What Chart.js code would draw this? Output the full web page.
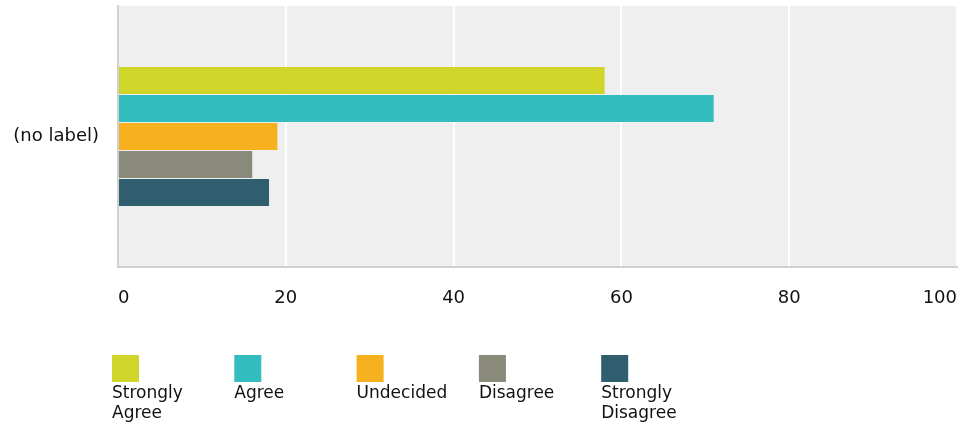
<!DOCTYPE html>
<html>
<head>
<meta charset="utf-8">
<script src="https://cdn.jsdelivr.net/npm/chart.js@4/dist/chart.umd.min.js"></script>
<style>
  html, body { margin: 0; padding: 0; background: #fff; overflow: hidden; }
  canvas { display: block; }
</style>
</head>
<body>
<canvas id="chart" width="959" height="429"></canvas>
<script>
const categories = ['(no label)'];
const seriesNames = ['Strongly Agree', 'Agree', 'Undecided', 'Disagree', 'Strongly Disagree'];
const seriesValues = [[58], [71], [19], [16], [18]];
const seriesColors = ['#d0d52a', '#33bdbf', '#f7b01e', '#8a8a7a', '#2f5f6e'];
const xTicks = [0, 20, 40, 60, 80, 100];

const FONT = '"DejaVu Sans", sans-serif';

// grey plot background
const plotBg = {
  id: 'plotBg',
  beforeDraw(chart) {
    const { ctx, chartArea: a } = chart;
    ctx.save();
    ctx.fillStyle = '#efefef';
    ctx.fillRect(a.left, a.top, a.right - a.left, a.bottom - a.top);
    ctx.restore();
  }
};

// legend: box on top, wrapped label under it
const boxLegend = {
  id: 'boxLegend',
  afterDraw(chart) {
    const ctx = chart.ctx;
    ctx.save();
    ctx.font = '17px ' + FONT;
    ctx.textBaseline = 'top';
    chart.data.datasets.forEach((ds, i) => {
      const x = 112 + i * 122.3;
      ctx.fillStyle = ds.backgroundColor;
      ctx.fillRect(x, 355, 27, 27);
      ctx.fillStyle = '#111';
      const words = ds.label.split(' ');
      let lines = [], cur = '';
      words.forEach(w => {
        const t = cur ? cur + ' ' + w : w;
        if (ctx.measureText(t).width > 112 && cur) { lines.push(cur); cur = w; } else cur = t;
      });
      lines.push(cur);
      lines.forEach((l, j) => ctx.fillText(l, x, 385 + j * 20));
    });
    ctx.restore();
  }
};

new Chart(document.getElementById('chart'), {
  type: 'bar',
  data: {
    labels: categories,
    datasets: seriesNames.map((n, i) => ({
      label: n,
      data: seriesValues[i],
      backgroundColor: seriesColors[i],
      barPercentage: 0.96,
      categoryPercentage: 0.537
    }))
  },
  options: {
    indexAxis: 'y',
    responsive: false,
    animation: false,
    layout: { padding: { left: 0, right: 2, top: 6, bottom: 108 } },
    plugins: { legend: { display: false }, tooltip: { enabled: false } },
    scales: {
      x: {
        min: 0, max: 100,
        afterBuildTicks: (s) => { s.ticks = xTicks.map(v => ({ value: v })); },
        afterFit: (s) => { s.height = 54; s.paddingLeft = 0; s.paddingRight = 0; },
        grid: {
          color: (c) => c.tick && c.tick.value === 0 ? 'rgba(0,0,0,0)' : '#ffffff',
          lineWidth: 2,
          drawTicks: false
        },
        border: { display: true, color: '#d0d0d0', width: 2 },
        ticks: { color: '#111', font: { family: FONT, size: 18 }, padding: 21, align: 'inner', maxRotation: 0 }
      },
      y: {
        afterFit: (s) => { s.width = 118; s.paddingTop = 0; s.paddingBottom = 0; },
        grid: { display: false, drawTicks: false },
        border: { display: true, color: '#d0d0d0', width: 2 },
        ticks: { color: '#111', font: { family: FONT, size: 18 }, padding: 19 }
      }
    }
  },
  plugins: [plotBg, boxLegend]
});
</script>
</body>
</html>
